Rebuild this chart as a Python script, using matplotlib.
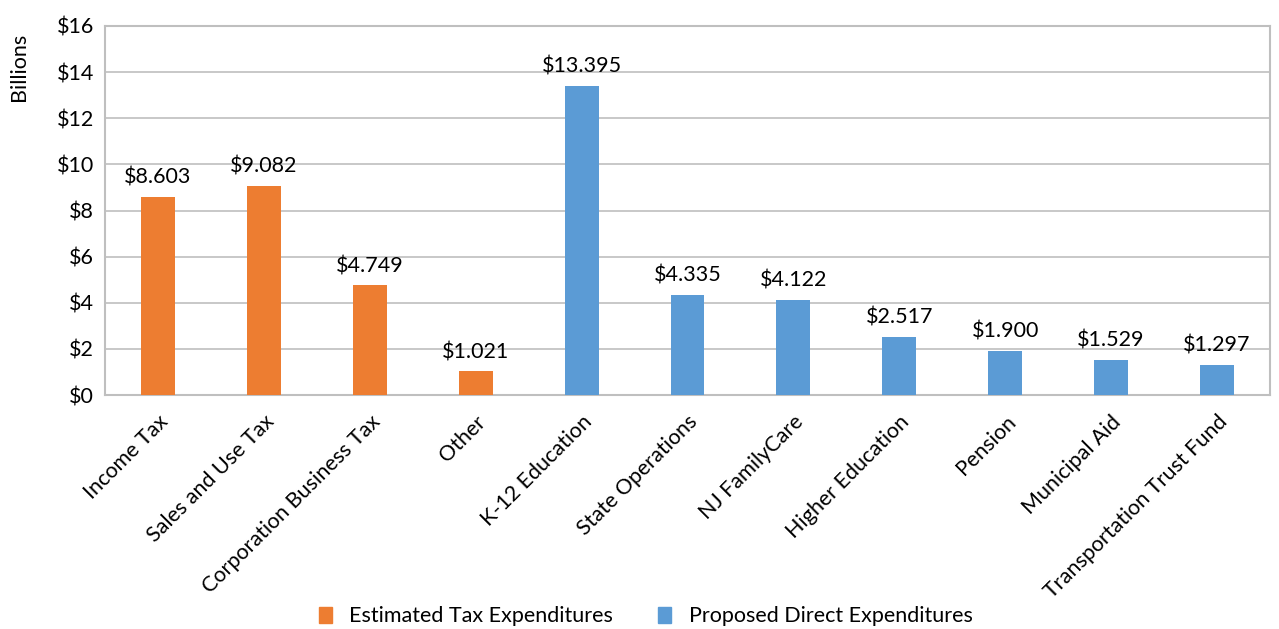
import matplotlib
matplotlib.use("Agg")
import matplotlib.pyplot as plt
from matplotlib.patches import Patch

categories = ["Income Tax", "Sales and Use Tax", "Corporation Business Tax", "Other",
              "K-12 Education", "State Operations", "NJ FamilyCare", "Higher Education",
              "Pension", "Municipal Aid", "Transportation Trust Fund"]
values = [8.603, 9.082, 4.749, 1.021, 13.395, 4.335, 4.122, 2.517, 1.900, 1.529, 1.297]
groups = ["tax"] * 4 + ["direct"] * 7
series_names = {"tax": "Estimated Tax Expenditures", "direct": "Proposed Direct Expenditures"}
colors = {"tax": "#ED7D31", "direct": "#5B9BD5"}
yticks = [0, 2, 4, 6, 8, 10, 12, 14, 16]

plt.rcParams['font.family'] = ['Lato', 'DejaVu Sans']
FS = 15.5
fig = plt.figure(figsize=(12.79, 6.29), dpi=100)
ax = fig.add_axes([105/1279, 1 - 395/629, (1270-105)/1279, (395-26)/629])

x = list(range(len(categories)))
ax.bar(x, values, width=0.32, color=[colors[g] for g in groups], zorder=3)
for xi, v in zip(x, values):
    ax.text(xi, v + 0.4, f"${v:.3f}", ha="center", va="bottom", fontsize=FS, color="black")

ax.set_xlim(-0.5, len(categories) - 0.5)
ax.set_ylim(0, 16)
ax.set_yticks(yticks)
ax.set_yticklabels([f"${t}" for t in yticks], fontsize=FS)
ax.grid(axis="y", color="#BFBFBF", linewidth=1.2, zorder=0)
for s in ax.spines.values():
    s.set_color("#BFBFBF")
    s.set_linewidth(1.5)
ax.tick_params(axis="both", length=0, pad=8)
ax.set_xticks(x)
ax.set_xticklabels(categories, rotation=45, ha="right", rotation_mode="anchor", fontsize=FS)
ax.tick_params(axis="x", pad=12)
ax.set_ylabel("Billions", fontsize=FS)
ax.yaxis.set_label_coords(-0.065, 0.889)

handles = [Patch(color=colors["tax"], label=series_names["tax"]),
           Patch(color=colors["direct"], label=series_names["direct"])]
fig.legend(handles=handles, loc="center", bbox_to_anchor=(0.505, 0.02),
           ncol=2, frameon=False, fontsize=FS, handlelength=0.6, handleheight=0.8,
           columnspacing=2.1, handletextpad=0.8)

fig.savefig("out.png", dpi=100, facecolor="white")
